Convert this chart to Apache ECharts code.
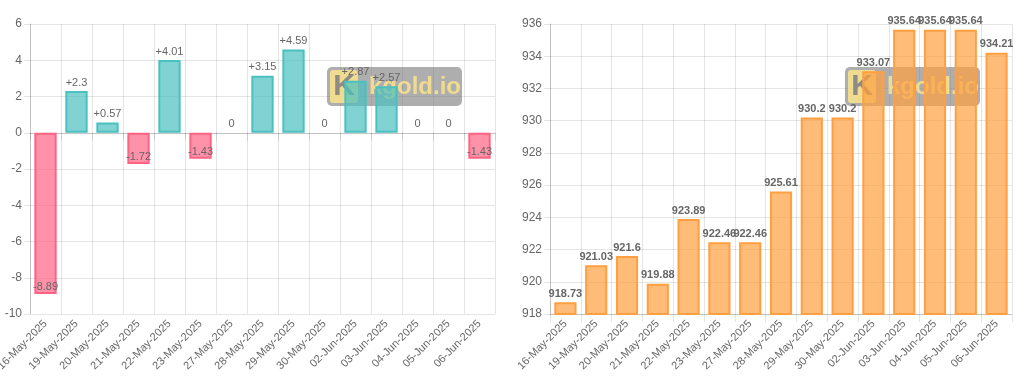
<!DOCTYPE html>
<html>
<head>
<meta charset="utf-8">
<script src="https://cdn.jsdelivr.net/npm/echarts@6/dist/echarts.min.js"></script>
<style>
html,body{margin:0;padding:0;background:#fff;}
#chart{width:1024px;height:385px;}
</style>
</head>
<body>
<div id="chart"></div>
<script>
const categories = ['16-May-2025','19-May-2025','20-May-2025','21-May-2025','22-May-2025','23-May-2025','27-May-2025','28-May-2025','29-May-2025','30-May-2025','02-Jun-2025','03-Jun-2025','04-Jun-2025','05-Jun-2025','06-Jun-2025'];
const changeValues = [-8.89, 2.3, 0.57, -1.72, 4.01, -1.43, 0, 3.15, 4.59, 0, 2.87, 2.57, 0, 0, -1.43];
const priceValues = [918.73, 921.03, 921.6, 919.88, 923.89, 922.46, 922.46, 925.61, 930.2, 930.2, 933.07, 935.64, 935.64, 935.64, 934.21];
const changeAxis = {min: -10, max: 6, interval: 2};
const priceAxis = {min: 918, max: 936, interval: 2};
const watermarkText = 'kgold.io';

const FONT = 'Liberation Sans, Arial, Helvetica, sans-serif';
const gridColor = 'rgba(0,0,0,0.1)';
const txt = '#666';

const changeData = changeValues.map(v => {
  const neg = v < 0;
  return {
    value: v,
    itemStyle: {
      color: neg ? 'rgba(255,99,132,0.7)' : 'rgba(75,192,192,0.7)',
      borderColor: neg ? 'rgb(255,99,132)' : 'rgb(75,192,192)',
      borderWidth: v === 0 ? 0 : 2
    },
    label: neg ? {position: 'insideBottom', distance: 1} : {position: 'top', distance: 3}
  };
});

function xAxis(gi){
  return {
    type: 'category', gridIndex: gi, data: categories,
    axisLine: {show: true, lineStyle: {color: 'rgba(0,0,0,0.15)'}},
    axisTick: {show: true, length: 8, lineStyle: {color: gridColor}},
    splitLine: {show: true, lineStyle: {color: gridColor}},
    axisLabel: {rotate: 45, color: txt, fontSize: 11, fontFamily: FONT, margin: 8, interval: 0}
  };
}
function yAxis(gi, a){
  return {
    type: 'value', gridIndex: gi, min: a.min, max: a.max, interval: a.interval,
    axisLine: {show: true, lineStyle: {color: 'rgba(0,0,0,0.15)'}},
    axisTick: {show: true, length: 6, lineStyle: {color: gridColor}},
    splitLine: {show: true, lineStyle: {color: gridColor}},
    axisLabel: {color: txt, fontSize: 12, fontFamily: FONT, margin: 8}
  };
}

function watermark(x){
  return {
    type: 'group', left: x, top: 67, z: 1, zlevel: 0,
    children: [
      {type: 'rect', z: 1, shape: {x: 0, y: 0, width: 135, height: 39, r: 5}, style: {fill: 'rgba(120,120,120,0.6)'}},
      {type: 'rect', z: 1, shape: {x: 3, y: 3, width: 28, height: 33, r: 3}, style: {fill: 'rgba(250,228,140,0.85)'}},
      {type: 'text', z: 1, x: 17, y: 20, style: {text: 'K', font: 'bold 30px ' + FONT, fill: 'rgba(130,130,130,0.9)', textAlign: 'center', textVerticalAlign: 'middle'}},
      {type: 'text', z: 1, x: 42, y: 20, style: {text: watermarkText, font: 'bold 24px ' + FONT, fill: 'rgba(250,228,140,0.85)', textAlign: 'left', textVerticalAlign: 'middle'}}
    ]
  };
}

const chart = echarts.init(document.getElementById('chart'), null, {renderer: 'canvas'});
chart.setOption({
  animation: false,
  backgroundColor: '#fff',
  grid: [
    {left: 30, top: 24, width: 465, bottom: 71, outerBoundsMode: 'none', containLabel: false},
    {left: 550, top: 24, width: 462, bottom: 71, outerBoundsMode: 'none', containLabel: false}
  ],
  xAxis: [xAxis(0), xAxis(1)],
  yAxis: [yAxis(0, changeAxis), yAxis(1, priceAxis)],
  graphic: {elements: [watermark(327), watermark(845)]},
  series: [
    {
      type: 'bar', xAxisIndex: 0, yAxisIndex: 0, data: changeData,
      barCategoryGap: '28%', z: 10,
      label: {show: true, color: txt, fontSize: 11, fontFamily: FONT,
        formatter: p => (p.value > 0 ? '+' : '') + p.value}
    },
    {
      type: 'bar', xAxisIndex: 1, yAxisIndex: 1, data: priceValues,
      barCategoryGap: '28%', z: 10,
      itemStyle: {color: 'rgba(255,159,64,0.7)', borderColor: 'rgb(255,159,64)', borderWidth: 2},
      label: {show: true, position: 'top', distance: 3, color: txt, fontSize: 11, fontWeight: 'bold', fontFamily: FONT}
    }
  ]
});
</script>
</body>
</html>
